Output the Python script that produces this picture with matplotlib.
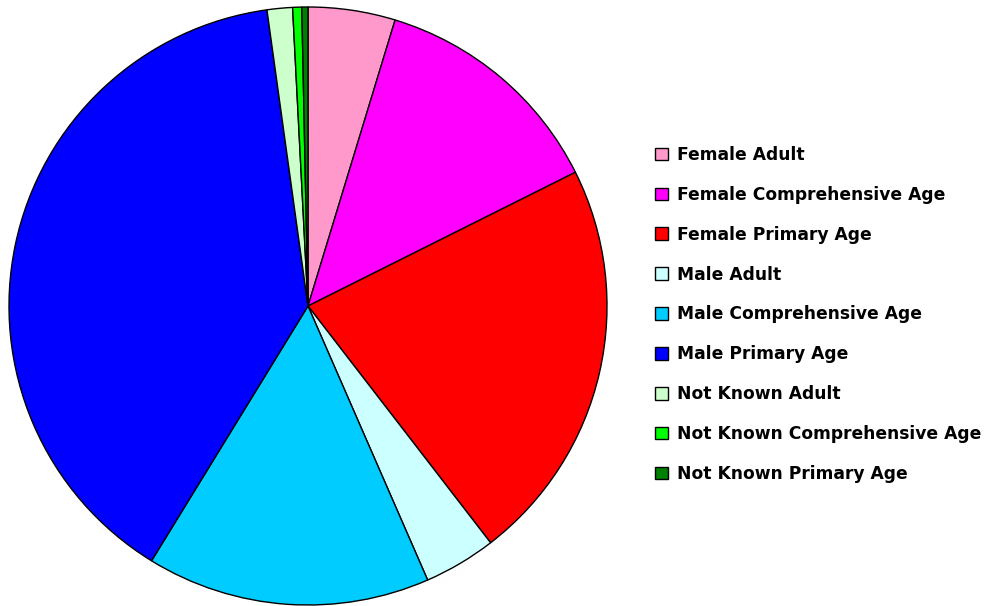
import matplotlib
matplotlib.use("Agg")
import matplotlib.pyplot as plt

categories = ["Female Adult", "Female Comprehensive Age", "Female Primary Age",
              "Male Adult", "Male Comprehensive Age", "Male Primary Age",
              "Not Known Adult", "Not Known Comprehensive Age", "Not Known Primary Age"]
values = [4.7, 12.9, 21.9, 3.9, 15.3, 39.0, 1.37, 0.49, 0.33]
colors = ["#FF99CC", "#FF00FF", "#FF0000", "#CCFFFF", "#00CCFF", "#0000FF",
          "#CCFFCC", "#00FF00", "#008000"]

W, H = 991, 606
fig = plt.figure(figsize=(W/100, H/100), dpi=100)
cx, cy, r = 308, 306, 299
ax = fig.add_axes([(cx-r)/W, (H-cy-r)/H, 2*r/W, 2*r/H])
wedges, _ = ax.pie(values, colors=colors, startangle=90, counterclock=False,
                   radius=1, wedgeprops=dict(edgecolor="black", linewidth=1))
ax.set_xlim(-1, 1)
ax.set_ylim(-1, 1)
ax.set_axis_off()

leg = fig.legend(wedges, categories, loc="upper left",
                 bbox_to_anchor=(655/W, 1-146/H), frameon=False,
                 prop=dict(family="DejaVu Sans", weight="bold", size=12.3),
                 handlelength=0.76, handleheight=0.76, handletextpad=0.53,
                 labelspacing=1.28, borderaxespad=0, borderpad=0)
for h in leg.legend_handles:
    h.set_linewidth(1)
    h.set_edgecolor("black")

fig.savefig("out.png", dpi=100)
